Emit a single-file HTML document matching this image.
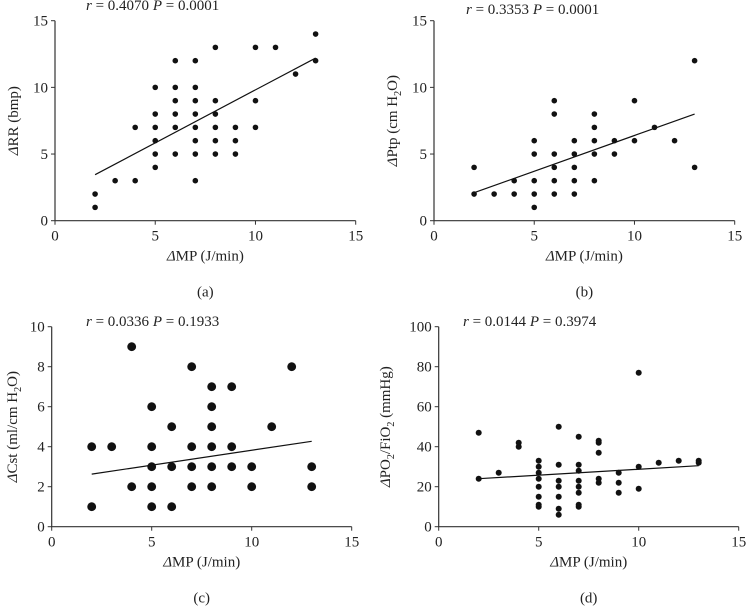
<!DOCTYPE html>
<html><head><meta charset="utf-8"><style>
body{margin:0;background:#fff;}
svg{display:block;font-family:"Liberation Serif","Times New Roman",serif;}
text{fill:#222;}
</style></head><body>
<svg id="c" width="746" height="606"></svg>
<script>
const xTicks=[0,5,10,15];
const aX=[2,2,3,4,4,5,5,5,5,5,5,6,6,6,6,6,6,7,7,7,7,7,7,7,7,8,8,8,8,8,8,9,9,9,10,10,10,11,12,13,13];
const aY=[1,2,3,3,7,4,5,6,7,8,10,5,7,8,9,10,12,3,5,6,7,8,9,10,12,5,6,7,8,9,13,5,6,7,7,9,13,13,11,12,14];
const aLine=[[2,3.45],[13,12.2]];
const aYTicks=[0,5,10,15];
const bX=[2,2,3,4,4,5,5,5,5,5,6,6,6,6,6,6,7,7,7,7,7,8,8,8,8,8,9,9,10,10,11,12,13,13];
const bY=[2,4,2,2,3,1,2,3,5,6,2,3,4,5,8,9,2,3,4,5,6,3,5,6,7,8,5,6,6,9,7,6,4,12];
const bLine=[[2,2.1],[13,8]];
const bYTicks=[0,5,10,15];
const cX=[2,2,3,4,4,5,5,5,5,5,6,6,6,7,7,7,7,8,8,8,8,8,8,9,9,9,10,10,11,12,13,13];
const cY=[1,4,4,2,9,1,2,3,4,6,1,3,5,2,3,4,8,2,3,4,5,6,7,3,4,7,2,3,5,8,2,3];
const cLine=[[2,2.63],[13,4.27]];
const cYTicks=[0,2,4,6,8,10];
const dX=[2,2,3,4,4,5,5,5,5,5,5,5,5,6,6,6,6,6,6,6,7,7,7,7,7,7,7,7,8,8,8,8,8,9,9,9,10,10,10,11,12,13,13];
const dY=[24,47,27,40,42,10,11,15,20,24,27,30,33,6,9,15,20,23,31,50,10,11,17,20,23,28,31,45,22,24,37,42,43,17,22,27,19,30,77,32,33,32,33];
const dLine=[[2,24],[13,30.5]];
const dYTicks=[0,20,40,60,80,100];

const svg=document.getElementById('c');
const NS='http://www.w3.org/2000/svg';
function el(t,a,p){const e=document.createElementNS(NS,t);for(const k in a)e.setAttribute(k,a[k]);(p||svg).appendChild(e);return e;}
function panel(o){
  const g=el('g',{});
  
  
  const ymax=o.yt[o.yt.length-1];
  const sx=v=>o.x0+(o.x1-o.x0)*v/15;
  const sy=v=>o.y0-(o.y0-o.y1)*v/ymax;
  const ax=el('path',{d:`M${o.x0},${o.y1}V${o.y0}H${o.x1}`,stroke:'#333','stroke-width':1.2,fill:'none'},g);
  
  
  xTicks.forEach(v=>{
    el('line',{x1:sx(v),x2:sx(v),y1:o.y0,y2:o.y0+4,stroke:'#333'},g);
    const t=el('text',{x:sx(v),y:o.y0+20,'text-anchor':'middle','font-size':15},g);t.textContent=v;
    
    
  });
  o.yt.forEach(v=>{
    el('line',{x1:o.x0-4,x2:o.x0,y1:sy(v),y2:sy(v),stroke:'#333'},g);
    const t=el('text',{x:o.x0-7,y:sy(v)+5,'text-anchor':'end','font-size':15},g);t.textContent=v;
    
    
  });
  o.xs.forEach((v,i)=>{
    const c=el('circle',{cx:sx(v),cy:sy(o.ys[i]),r:o.r,fill:'#111'},g);
    
    
  });
  const l=el('line',{x1:sx(o.line[0][0]),y1:sy(o.line[0][1]),x2:sx(o.line[1][0]),y2:sy(o.line[1][1]),stroke:'#111','stroke-width':1.2},g);
  
  
  const st=el('text',{x:o.tx,y:o.ty,'font-size':15},g);
  st.innerHTML=o.stat;
  
  
  const xt=el('text',{x:(o.x0+o.x1)/2,y:o.y0+40,'text-anchor':'middle','font-size':15},g);
  xt.innerHTML='<tspan font-style="italic">Δ</tspan>MP (J/min)';
  
  
  const cy=(o.y0+o.y1)/2;
  const yt=el('text',{x:0,y:0,'text-anchor':'middle','font-size':15,transform:`translate(${o.ytx},${cy}) rotate(-90)`},g);
  yt.innerHTML=o.ytitle;
  
  
  const cap=el('text',{x:(o.x0+o.x1)/2,y:o.y0+76,'text-anchor':'middle','font-size':15},g);
  cap.textContent='('+o.id+')';
  
  
}
const sub='font-size="10" dy="4"';
panel({id:'a',x0:55,x1:355.7,y0:220.7,y1:20.7,yt:aYTicks,xs:aX,ys:aY,line:aLine,r:2.8,tx:86,ty:10,ytx:18,
  stat:'<tspan font-style="italic">r</tspan> = 0.4070 <tspan font-style="italic">P</tspan> = 0.0001',
  ytitle:'<tspan font-style="italic">Δ</tspan>RR (bmp)'});
panel({id:'b',x0:434,x1:734.7,y0:220.7,y1:20.7,yt:bYTicks,xs:bX,ys:bY,line:bLine,r:2.8,tx:466,ty:14,ytx:397,
  stat:'<tspan font-style="italic">r</tspan> = 0.3353 <tspan font-style="italic">P</tspan> = 0.0001',
  ytitle:'<tspan font-style="italic">Δ</tspan>Ptp (cm H<tspan '+sub+'>2</tspan><tspan dy="-4">O)</tspan>'});
panel({id:'c',x0:51.7,x1:351.7,y0:526.7,y1:326.7,yt:cYTicks,xs:cX,ys:cY,line:cLine,r:4.4,tx:86,ty:326,ytx:17,
  stat:'<tspan font-style="italic">r</tspan> = 0.0336 <tspan font-style="italic">P</tspan> = 0.1933',
  ytitle:'<tspan font-style="italic">Δ</tspan>Cst (ml/cm H<tspan '+sub+'>2</tspan><tspan dy="-4">O)</tspan>'});
panel({id:'d',x0:438.7,x1:738.7,y0:526.7,y1:326.7,yt:dYTicks,xs:dX,ys:dY,line:dLine,r:3,tx:463,ty:326,ytx:390,
  stat:'<tspan font-style="italic">r</tspan> = 0.0144 <tspan font-style="italic">P</tspan> = 0.3974',
  ytitle:'<tspan font-style="italic">Δ</tspan>PO<tspan '+sub+'>2</tspan><tspan dy="-4">/FiO</tspan><tspan '+sub+'>2</tspan><tspan dy="-4"> (mmHg)</tspan>'});
</script>
</body></html>
